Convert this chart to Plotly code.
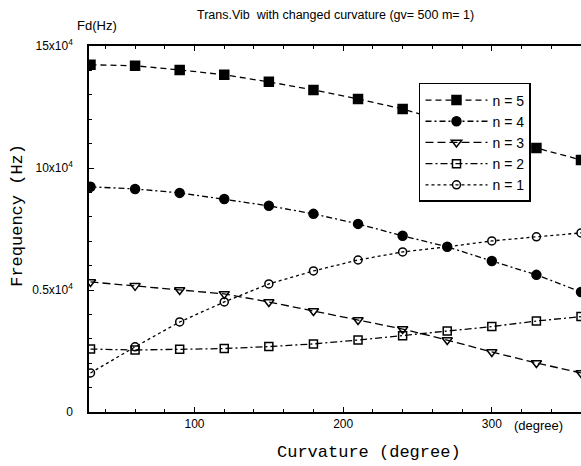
import plotly.graph_objects as go

# Data
curvature = [30, 60, 90, 120, 150, 180, 210, 240, 270, 300, 330, 360]
n5 = [14230, 14190, 14020, 13820, 13530, 13200, 12830, 12420, 11890, 11360, 10820, 10330]
n4 = [9230, 9140, 8980, 8730, 8450, 8120, 7710, 7220, 6770, 6190, 5620, 4920]
n3 = [5330, 5170, 5000, 4840, 4510, 4140, 3770, 3400, 2950, 2460, 2010, 1600]
n2 = [2580, 2540, 2570, 2600, 2680, 2790, 2950, 3120, 3320, 3500, 3730, 3910]
n1 = [1600, 2670, 3690, 4510, 5250, 5780, 6230, 6560, 6770, 7010, 7180, 7340]

series_names = ["n = 5", "n = 4", "n = 3", "n = 2", "n = 1"]
series_vals = [n5, n4, n3, n2, n1]
symbols = ["square", "circle", "triangle-down-open", "square-open", "circle-open"]
sizes = [9, 9, 9, 8, 8]
dashes = ["6px,4px", "6px,3px,2px,3px", "8px,4px", "7px,3px,2px,3px", "3px,3px"]

y_tickvals = [0, 5000, 10000, 15000]
y_ticktext = ["0", "0.5x10<sup>4</sup>", "10x10<sup>4</sup>", "15x10<sup>4</sup>"]
x_tickvals = [100, 200, 300]

fig = go.Figure()
for name, vals, sym, sz, dash in zip(series_names, series_vals, symbols, sizes, dashes):
    fig.add_trace(go.Scatter(
        x=curvature, y=vals, name=name, mode="lines+markers",
        line=dict(color="black", width=1.3, dash=dash),
        marker=dict(symbol=sym, size=sz, color="black",
                    line=dict(color="black", width=1.5)),
    ))

fig.update_layout(
    width=581, height=466,
    margin=dict(l=89, r=0, t=46, b=54),
    paper_bgcolor="white", plot_bgcolor="white",
    font=dict(family="Liberation Sans, Arial, sans-serif", color="black", size=12),
    showlegend=True,
    legend=dict(
        x=0.6707, y=0.899, xanchor="left", yanchor="top",
        bordercolor="black", borderwidth=1.5, bgcolor="white",
        font=dict(size=14, family="Liberation Sans, Arial, sans-serif"),
        itemwidth=62, tracegroupgap=0,
    ),
    xaxis=dict(
        range=[29, 360], tickvals=x_tickvals, ticks="inside", ticklen=5,
        tickcolor="black", tickwidth=1.2,
        minor=dict(dtick=20, tick0=0, ticks="inside", ticklen=3, tickcolor="black"),
        showline=True, linecolor="black", linewidth=1.5, mirror="ticks",
        showgrid=False, zeroline=False,
        tickfont=dict(size=12),
    ),
    yaxis=dict(
        range=[0, 15000], tickvals=y_tickvals, ticktext=y_ticktext,
        ticks="inside", ticklen=5, tickcolor="black", tickwidth=1.2,
        minor=dict(dtick=1000, ticks="inside", ticklen=3, tickcolor="black"),
        showline=True, linecolor="black", linewidth=1.5,
        showgrid=False, zeroline=False,
        tickfont=dict(size=12), ticklabelstandoff=12,
    ),
    annotations=[
        dict(text="Trans.Vib  with changed curvature (gv= 500 m= 1)",
             xref="paper", yref="paper", x=0.5, y=1.0, yshift=31,
             xanchor="center", yanchor="middle", showarrow=False,
             font=dict(size=12.5)),
        dict(text="Fd(Hz)", xref="paper", yref="paper", x=0.0, y=1.0,
             xshift=8, yshift=21, xanchor="center", yanchor="middle",
             showarrow=False, font=dict(size=13)),
        dict(text="Frequency (Hz)", xref="paper", yref="paper", x=0.0, y=0.536,
             xshift=-71, textangle=-90, xanchor="center", yanchor="middle",
             showarrow=False,
             font=dict(size=17, family="Liberation Mono, Courier New, monospace")),
        dict(text="Curvature (degree)", xref="paper", yref="paper", x=0.5, y=0.0,
             xshift=34, yshift=-40, xanchor="center", yanchor="middle",
             showarrow=False,
             font=dict(size=17, family="Liberation Mono, Courier New, monospace")),
        dict(text="(degree)", xref="paper", yref="paper", x=0.0, y=0.0,
             xshift=449, yshift=-13, xanchor="center", yanchor="middle",
             showarrow=False, font=dict(size=13)),
    ],
)

fig.write_html("out.html")
